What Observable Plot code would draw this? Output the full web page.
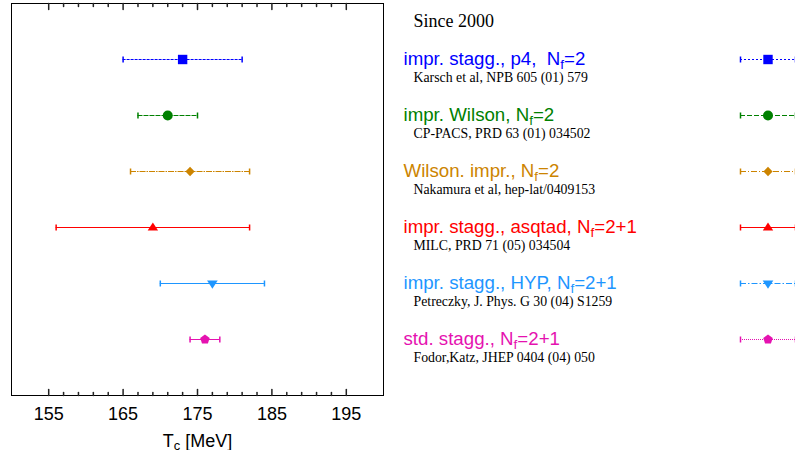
<!DOCTYPE html>
<html><head><meta charset="utf-8">
<script src="https://cdn.jsdelivr.net/npm/d3@7"></script>
<script src="https://cdn.jsdelivr.net/npm/@observablehq/plot@0.6"></script>
<style>
body{margin:0;background:#fff;}
#row{display:flex;width:795px;height:450px;overflow:hidden;background:#fff;}
#row svg{display:block;flex:none;}
svg text{white-space:pre;}
</style></head><body><div id="row"></div>
<script>
// ---- data ----
const names = [
  "impr. stagg., p4,  N_f=2",
  "impr. Wilson, N_f=2",
  "Wilson. impr., N_f=2",
  "impr. stagg., asqtad, N_f=2+1",
  "impr. stagg., HYP, N_f=2+1",
  "std. stagg., N_f=2+1"
];
const refs = [
  "Karsch et al, NPB 605 (01) 579",
  "CP-PACS, PRD 63 (01) 034502",
  "Nakamura et al, hep-lat/0409153",
  "MILC, PRD 71 (05) 034504",
  "Petreczky, J. Phys. G 30 (04) S1259",
  "Fodor,Katz, JHEP 0404 (04) 050"
];
const tc = [173, 171, 174, 169, 177, 176];
const err = [8, 4, 8, 13, 7, 2];
const colors = ["#0000ff", "#008000", "#cc8400", "#ff0000", "#1e96ff", "#e512b0"];
const mainDash = ["3,1", "5,1", "6,1,1.5,1", null, null, null];
const legendDash = ["2,2", "5,2", "6,2,1,2", null, "6,2,1.5,2", "1,1"];
const majorTicks = [155, 165, 175, 185, 195];
const minorTicks = [157, 159, 161, 163, 167, 169, 171, 173, 177, 179, 181, 183, 187, 189, 191, 193];
const heading = "Since 2000";
const axisTitle = "T_c [MeV]";

// ---- symbols ----
const poly = (pts) => ({draw(ctx, size) {
  const k = Math.sqrt(size / Math.PI) / 5;
  ctx.moveTo(pts[0][0] * k, pts[0][1] * k);
  for (let j = 1; j < pts.length; ++j) ctx.lineTo(pts[j][0] * k, pts[j][1] * k);
  ctx.closePath();
}});
const symSquare = poly([[-4.7, -4.7], [4.7, -4.7], [4.7, 4.7], [-4.7, 4.7]]);
const symCircle = {draw(ctx, size) { const r = Math.sqrt(size / Math.PI); ctx.moveTo(r, 0); ctx.arc(0, 0, r, 0, 2 * Math.PI); }};
const symDiamond = poly([[0, -4.8], [4.6, 0], [0, 4.8], [-4.6, 0]]);
const symTri = poly([[0, -5], [5.2, 3], [-5.2, 3]]);
const symTriDown = poly([[-5.3, -3], [5.3, -3], [0, 5.3]]);
const symPent = poly(d3.range(5).map(k => [5 * Math.cos(-Math.PI / 2 + k * 2 * Math.PI / 5), 5 * Math.sin(-Math.PI / 2 + k * 2 * Math.PI / 5)]));
const symbols = [symSquare, symCircle, symDiamond, symTri, symTriDown, symPent];
const capSym = {draw(ctx) { ctx.moveTo(0, -3); ctx.lineTo(0, 3); }};
const tickShape = {draw(ctx, l) { ctx.moveTo(0, 0); ctx.lineTo(0, -l); }};

const rows = names.map((name, i) => ({name, ref: refs[i], tc: tc[i], err: err[i], lo: tc[i] - err[i], hi: tc[i] + err[i]}));

const sans = "'Liberation Sans', Arial, Helvetica, sans-serif";
const serif = "'Liberation Serif', 'Times New Roman', serif";
const common = {
  height: 450, marginTop: 3, marginBottom: 55,
  y: {type: "point", domain: names, padding: 1, axis: null},
  color: {domain: names, range: colors},
  symbol: {domain: names, range: symbols},
  style: {fontFamily: sans, fontSize: "18px", background: "white", overflow: "visible", color: "black"}
};

const main = Plot.plot({
  ...common, width: 395, marginLeft: 11, marginRight: 12,
  x: {domain: [150, 200]},
  marks: [
    Plot.frame({stroke: "black"}),
    Plot.vector(majorTicks, {x: d => d, frameAnchor: "bottom", length: 6, anchor: "start", shape: tickShape, stroke: "#222"}),
    Plot.vector(majorTicks, {x: d => d, frameAnchor: "top", length: 6, rotate: 180, anchor: "start", shape: tickShape, stroke: "#222"}),
    Plot.vector(minorTicks, {x: d => d, frameAnchor: "bottom", length: 3, anchor: "start", shape: tickShape, stroke: "#222"}),
    Plot.vector(minorTicks, {x: d => d, frameAnchor: "top", length: 3, rotate: 180, anchor: "start", shape: tickShape, stroke: "#222"}),
    Plot.axisX(majorTicks, {anchor: "bottom", tickSize: 0, tickPadding: 12, tickFormat: d => String(d), label: null, fontSize: 18}),
    Plot.text([axisTitle], {text: d => d, frameAnchor: "bottom", dy: 51, lineAnchor: "bottom", fontSize: 18, fill: "black"}),
    ...rows.map((r, i) => Plot.ruleY([r], {y: "name", x1: "lo", x2: "hi", stroke: "name", strokeDasharray: mainDash[i]})),
    Plot.dot(rows, {x: "lo", y: "name", symbol: capSym, stroke: "name", r: 3}),
    Plot.dot(rows, {x: "hi", y: "name", symbol: capSym, stroke: "name", r: 3}),
    Plot.dot(rows, {x: "tc", y: "name", symbol: "name", fill: "name", r: 5})
  ]
});

const textPlot = Plot.plot({
  ...common, width: 345, marginLeft: 8, marginRight: 0,
  marks: [
    Plot.text([heading], {text: d => d, frameAnchor: "top-left", textAnchor: "start", dx: 10, dy: 23, lineAnchor: "bottom", fontFamily: serif, fontSize: 18, fill: "black"}),
    Plot.text(rows, {y: "name", text: "name", frameAnchor: "left", textAnchor: "start", lineAnchor: "bottom", dy: 5, fill: "name", fontSize: 18.7}),
    Plot.text(rows, {y: "name", text: "ref", frameAnchor: "left", textAnchor: "start", lineAnchor: "bottom", dx: 10, dy: 22, fontFamily: serif, fontSize: 13.8, fill: "black"})
  ]
});

const swatch = Plot.plot({
  ...common, width: 55, marginLeft: 0, marginRight: 0,
  marks: [
    ...rows.map((r, i) => Plot.ruleY([r], {y: "name", stroke: "name", strokeDasharray: legendDash[i]})),
    Plot.dot(rows, {y: "name", frameAnchor: "left", symbol: capSym, stroke: "name", r: 3}),
    Plot.dot(rows, {y: "name", frameAnchor: "right", symbol: capSym, stroke: "name", r: 3}),
    Plot.dot(rows, {y: "name", frameAnchor: "middle", symbol: "name", fill: "name", r: 5})
  ]
});

const row = document.getElementById("row");
[main, textPlot, swatch].forEach(s => row.appendChild(s));

// subscripts: "X_c..." -> X with subscript c
function subscripts(svg) {
  d3.select(svg).selectAll("text").each(function() {
    if (this.querySelector("tspan")) return;
    const t = this.textContent;
    const m = /^(.*?)_(\w)(.*)$/.exec(t);
    if (!m) return;
    const fs = parseFloat(getComputedStyle(this).fontSize) || 18;
    const sub = fs * 0.72, shift = fs * 0.22;
    const sel = d3.select(this);
    sel.text(null);
    sel.append("tspan").text(m[1]);
    sel.append("tspan").attr("font-size", sub).attr("dy", shift).text(m[2]);
    sel.append("tspan").attr("dy", -shift).text(m[3]);
  });
}
[main, textPlot, swatch].forEach(subscripts);
</script>
</body></html>
